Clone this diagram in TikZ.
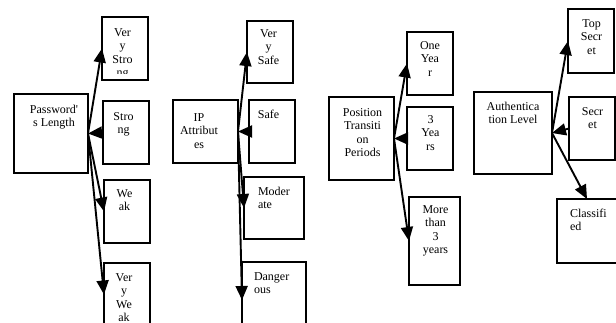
\documentclass[tikz,border=0pt]{standalone}
\usepackage{fontspec}
\setmainfont{Liberation Serif}
\usetikzlibrary{arrows.meta}
\newcommand{\mylblc}[1]{\parbox[t]{80pt}{\centering #1}}
\newcommand{\mylbll}[1]{\parbox[t]{80pt}{\raggedright #1}}
\begin{document}
\begin{tikzpicture}[x=1pt,y=-1pt,
  box/.style={draw, line width=1.8pt, rectangle, inner sep=0pt, outer sep=0pt},
  lbl/.style={inner sep=0pt, outer sep=0pt, anchor=base, font=\fontsize{12}{13.5}\selectfont},
  lbll/.style={lbl, anchor=base west},
  conn/.style={line width=1.9pt, -{Triangle[length=14pt,width=12pt]}}]
\useasboundingbox (0,0) rectangle (616,322);
\clip (0,0) rectangle (616,322);

% Group 1
\node[box, minimum width=74pt, minimum height=79pt] (pl) at (51,133.5) {};
\node[box, minimum width=46pt, minimum height=63pt] (vs) at (125,48.5) {};
\node[box, minimum width=46pt, minimum height=63pt] (st) at (126,132.5) {};
\node[box, minimum width=46pt, minimum height=63pt] (wk) at (127,211.5) {};
\node[box, minimum width=46pt, minimum height=63pt] (vw) at (127,294.5) {};
\node[lbl] (plt) at (54,113) {\mylblc{Password\textquotesingle\\s Length}};
\begin{scope}
\clip (102,17) rectangle (148,73);
\node[lbl] (vst) at (122.5,36) {\mylblc{Ver\\y\\Stro\\ng}};
\end{scope}
\node[lbl] (stt) at (123.5,120) {\mylblc{Stro\\ng}};
\node[lbl] (wkt) at (124.5,197) {\mylblc{We\\ak}};
\node[lbl] (vwt) at (124,281) {\mylblc{Ver\\y\\We\\ak}};
\draw[conn] (pl.east) -- (vs.west);
\draw[conn] (st.west) -- (pl.east);
\draw[conn] (pl.east) -- (wk.west);
\draw[conn] (pl.east) -- (vw.west);

% Group 2
\node[box, minimum width=65pt, minimum height=63pt] (ip) at (205.5,131.5) {};
\node[box, minimum width=46pt, minimum height=62pt] (vsf) at (270,52) {};
\node[box, minimum width=46pt, minimum height=63pt] (sf) at (272,131.5) {};
\node[box, minimum width=60pt, minimum height=62pt] (md) at (274,208) {};
\node[box, minimum width=64pt, minimum height=76pt] (dg) at (274,300) {};
\node[lbl] (ipt) at (199,121) {\mylblc{IP\\Attribut\\es}};
\node[lbl] (vsft) at (268.5,37) {\mylblc{Ver\\y\\Safe}};
\node[lbl] (sft) at (268.5,118) {\mylblc{Safe}};
\node[lbll] (mdt) at (258,195) {\mylbll{Moder\\ate}};
\node[lbll] (dgt) at (254,280) {\mylbll{Danger\\ous}};
\draw[conn] (ip.east) -- (vsf.west);
\draw[conn] (sf.west) -- (ip.east);
\draw[conn] (ip.east) -- (md.west);
\draw[conn] (ip.east) -- (dg.west);

% Group 3
\node[box, minimum width=65pt, minimum height=83pt] (ptp) at (361.5,138.5) {};
\node[box, minimum width=46pt, minimum height=63pt] (oy) at (430,63.5) {};
\node[box, minimum width=46pt, minimum height=63pt] (ty) at (430,138.5) {};
\node[box, minimum width=51pt, minimum height=88pt] (mt) at (434.5,241) {};
\node[lbl] (ptpt) at (362.5,116) {\mylblc{Position\\Transiti\\on\\Periods}};
\node[lbl] (oyt) at (430,49) {\mylblc{One\\Yea\\r}};
\node[lbl] (tyt) at (430.5,123) {\mylblc{3\\Yea\\rs}};
\node[lbl] (mtt) at (435.5,213) {\mylblc{More\\than\\3\\years}};
\draw[conn] (ptp.east) -- (oy.west);
\draw[conn] (ty.west) -- (ptp.east);
\draw[conn] (ptp.east) -- (mt.west);

% Group 4
\node[box, minimum width=78pt, minimum height=82pt] (al) at (513,133) {};
\node[box, minimum width=46pt, minimum height=64pt] (ts) at (591,41) {};
\node[box, minimum width=46pt, minimum height=63pt] (sc) at (592,128.5) {};
\node[box, minimum width=60pt, minimum height=64pt] (cl) at (587,231) {};
\node[lbl] (alt) at (513,110) {\mylblc{Authentica\\tion Level}};
\node[lbl] (tst) at (591.5,27) {\mylblc{Top\\Secr\\et}};
\node[lbl] (sct) at (592.5,115) {\mylblc{Secr\\et}};
\node[lbll] (clt) at (570,217) {\mylbll{Classifi\\ed}};
\draw[conn] (al.east) -- (ts.west);
\draw[conn] (sc.west) -- (al.east);
\draw[conn] (al.east) -- (cl.north);
\end{tikzpicture}
\end{document}
